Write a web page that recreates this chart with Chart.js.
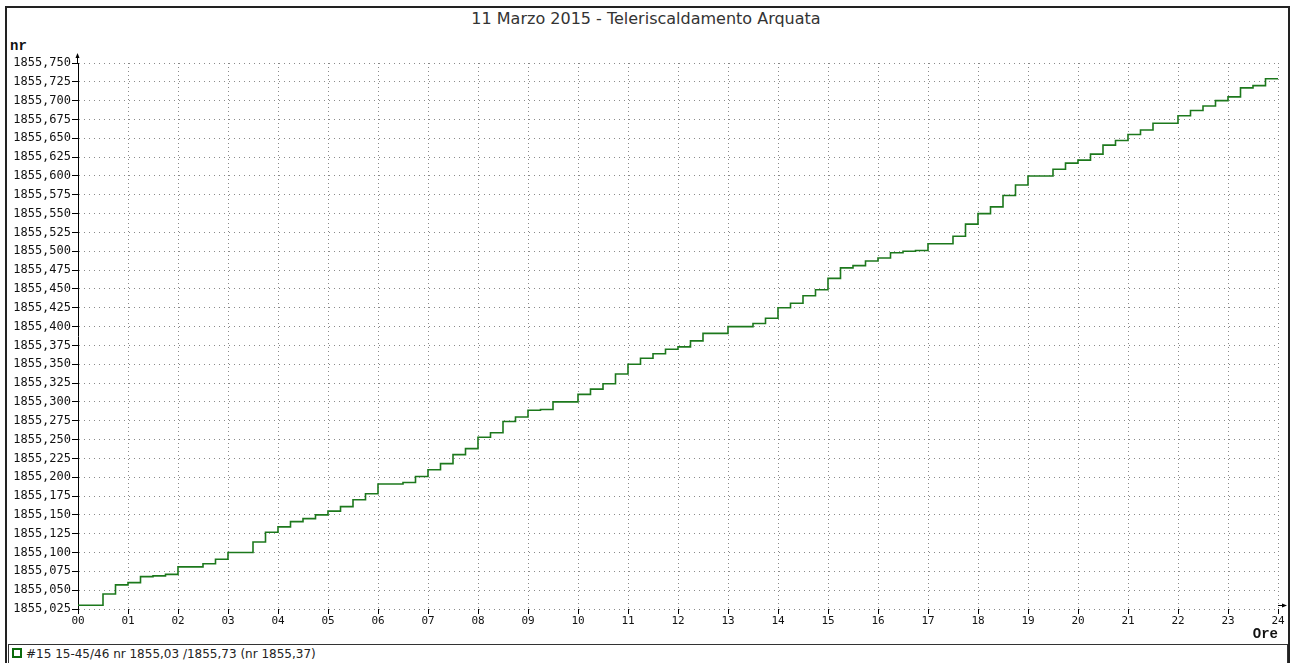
<!DOCTYPE html>
<html>
<head>
<meta charset="utf-8">
<title>11 Marzo 2015 - Teleriscaldamento Arquata</title>
<script src="https://cdn.jsdelivr.net/npm/chart.js@4"></script>
<style>
  html, body { margin:0; padding:0; background:#fff; }
  body { width:1292px; height:663px; position:relative; overflow:hidden; }
  .frame { position:absolute; left:5px; top:6px; width:1285px; height:700px; box-sizing:border-box;
           border:2px solid #222; border-bottom:none; }
  #title { position:absolute; left:0; top:9px; width:1292px; text-align:center;
           font:16px "DejaVu Sans", sans-serif; color:#333; line-height:20px; }
  #yUnit { position:absolute; left:10px; top:38px; font:bold 14px "Liberation Mono", monospace; color:#111; }
  #chart { position:absolute; left:0; top:0; }
  .legend { position:absolute; left:8px; top:644px; width:1280px; height:22px; box-sizing:border-box;
            border:1px solid #333; font:12px "DejaVu Sans", sans-serif; color:#222; line-height:18px;
            padding-left:17px; white-space:nowrap; }
  .legend .sw { position:absolute; left:3px; top:3px; width:10px; height:10px; box-sizing:border-box;
                border:2px solid #0b6a0b; background:#fff; }
</style>
</head>
<body>
<div class="frame"></div>
<div id="title"></div>
<div id="yUnit">nr</div>
<canvas id="chart" width="1292" height="643"></canvas>
<div class="legend"><span class="sw"></span><span id="legendText"></span></div>

<script>
  // data: hour of each change -> counter value from then on
  const chartTitle = '11 Marzo 2015 - Teleriscaldamento Arquata';
  const seriesLabel = '#15 15-45/46 nr 1855,03 /1855,73 (nr 1855,37)';
  const hours = [
    0, 0.5, 0.75, 1, 1.25, 1.5, 1.75, 2, 2.5, 2.75, 3, 3.5, 3.75, 4, 4.25, 4.5, 4.75,
    5, 5.25, 5.5, 5.75, 6, 6.5, 6.75, 7, 7.25, 7.5, 7.75, 8, 8.25, 8.5, 8.75, 9, 9.25, 9.5,
    10, 10.25, 10.5, 10.75, 11, 11.25, 11.5, 11.75, 12, 12.25, 12.5, 13, 13.5, 13.75, 14, 14.25, 14.5, 14.75,
    15, 15.25, 15.5, 15.75, 16, 16.25, 16.5, 16.75, 17, 17.5, 17.75, 18, 18.25, 18.5, 18.75,
    19, 19.5, 19.75, 20, 20.25, 20.5, 20.75, 21, 21.25, 21.5, 22, 22.25, 22.5, 22.75,
    23, 23.25, 23.5, 23.75, 24
  ];
  const readings = [
    1855.030, 1855.045, 1855.057, 1855.060, 1855.068, 1855.069, 1855.071, 1855.081, 1855.085, 1855.091,
    1855.100, 1855.114, 1855.127, 1855.134, 1855.141, 1855.145, 1855.150,
    1855.155, 1855.161, 1855.170, 1855.178, 1855.191, 1855.193, 1855.201, 1855.210, 1855.218, 1855.230,
    1855.238, 1855.253, 1855.259, 1855.274, 1855.280, 1855.289, 1855.290, 1855.300,
    1855.310, 1855.317, 1855.324, 1855.337, 1855.350, 1855.358, 1855.364, 1855.370, 1855.373, 1855.381,
    1855.391, 1855.400, 1855.404, 1855.411, 1855.425, 1855.431, 1855.441, 1855.449,
    1855.464, 1855.478, 1855.481, 1855.487, 1855.491, 1855.498, 1855.500, 1855.501, 1855.510, 1855.520,
    1855.536, 1855.550, 1855.559, 1855.574, 1855.588,
    1855.600, 1855.609, 1855.617, 1855.621, 1855.629, 1855.641, 1855.647, 1855.655, 1855.661, 1855.670,
    1855.680, 1855.687, 1855.693, 1855.700, 1855.705, 1855.717, 1855.720, 1855.729, 1855.729
  ];
  const hourLabels = ['00','01','02','03','04','05','06','07','08','09','10','11','12',
                      '13','14','15','16','17','18','19','20','21','22','23','24'];
  const yMin = 1855.025, yMax = 1855.750, yStep = 0.025;

  document.getElementById('title').textContent = chartTitle;
  document.getElementById('legendText').textContent = seriesLabel;

  // axis arrows (y up at top, x right at end)
  const arrows = {
    id: 'arrows',
    afterDraw(chart) {
      const { ctx, chartArea: a } = chart;
      ctx.save();
      ctx.strokeStyle = '#000';
      ctx.fillStyle = '#000';
      ctx.lineWidth = 1;
      const x0 = Math.round(a.left) - 0.5;
      ctx.beginPath();
      ctx.moveTo(x0, a.top); ctx.lineTo(x0, a.top - 8); ctx.stroke();
      ctx.beginPath();
      ctx.moveTo(x0, a.top - 10); ctx.lineTo(x0 - 2, a.top - 5); ctx.lineTo(x0 + 2, a.top - 5); ctx.closePath(); ctx.fill();
      const y0 = Math.round(a.bottom) - 3.5;
      ctx.beginPath();
      ctx.moveTo(a.right, y0); ctx.lineTo(a.right + 7, y0); ctx.stroke();
      ctx.beginPath();
      ctx.moveTo(a.right + 9, y0); ctx.lineTo(a.right + 4, y0 - 2); ctx.lineTo(a.right + 4, y0 + 2); ctx.closePath(); ctx.fill();
      ctx.restore();
    }
  };

  const ctx = document.getElementById('chart').getContext('2d');
  new Chart(ctx, {
    type: 'line',
    data: {
      datasets: [{
        label: seriesLabel,
        data: hours.map((h, i) => ({ x: h, y: readings[i] })),
        borderColor: '#1c781c',
        borderWidth: 1.6,
        stepped: true,
        pointRadius: 0,
        fill: false
      }]
    },
    options: {
      responsive: false,
      animation: false,
      layout: { padding: { top: 63, right: 14, left: 0, bottom: 0 } },
      plugins: { legend: { display: false }, title: { display: false }, tooltip: { enabled: false } },
      scales: {
        x: {
          type: 'linear', min: 0, max: 24,
          afterFit(scale) { scale.height = 34; },
          border: { display: false, dash: [1, 3] },
          grid: { color: '#8a8a8a', drawTicks: true, tickLength: 5,
                  tickColor: '#000', tickBorderDash: [], tickWidth: 1 },
          ticks: { stepSize: 1, autoSkip: false, maxRotation: 0, padding: 1, color: '#111',
                   font: { family: 'DejaVu Sans Mono', size: 11 },
                   callback: v => hourLabels[v] },
          title: { display: true, text: 'Ore', align: 'end', color: '#111', padding: { top: 0, bottom: 0 },
                   font: { family: 'Liberation Mono', size: 14, weight: 'bold' } }
        },
        y: {
          type: 'linear', min: yMin, max: yMax,
          afterFit(scale) { scale.width = 78; },
          border: { display: true, color: '#000', width: 1, dash: [1, 4] },
          grid: { color: '#8a8a8a', drawTicks: true, tickLength: 6,
                  tickColor: '#000', tickBorderDash: [], tickWidth: 1 },
          ticks: { stepSize: yStep, autoSkip: false, padding: 1, color: '#111',
                   font: { family: 'DejaVu Sans Mono', size: 12 },
                   callback: v => v.toFixed(3).replace('.', ',') }
        }
      }
    },
    plugins: [arrows]
  });
</script>
</body>
</html>
